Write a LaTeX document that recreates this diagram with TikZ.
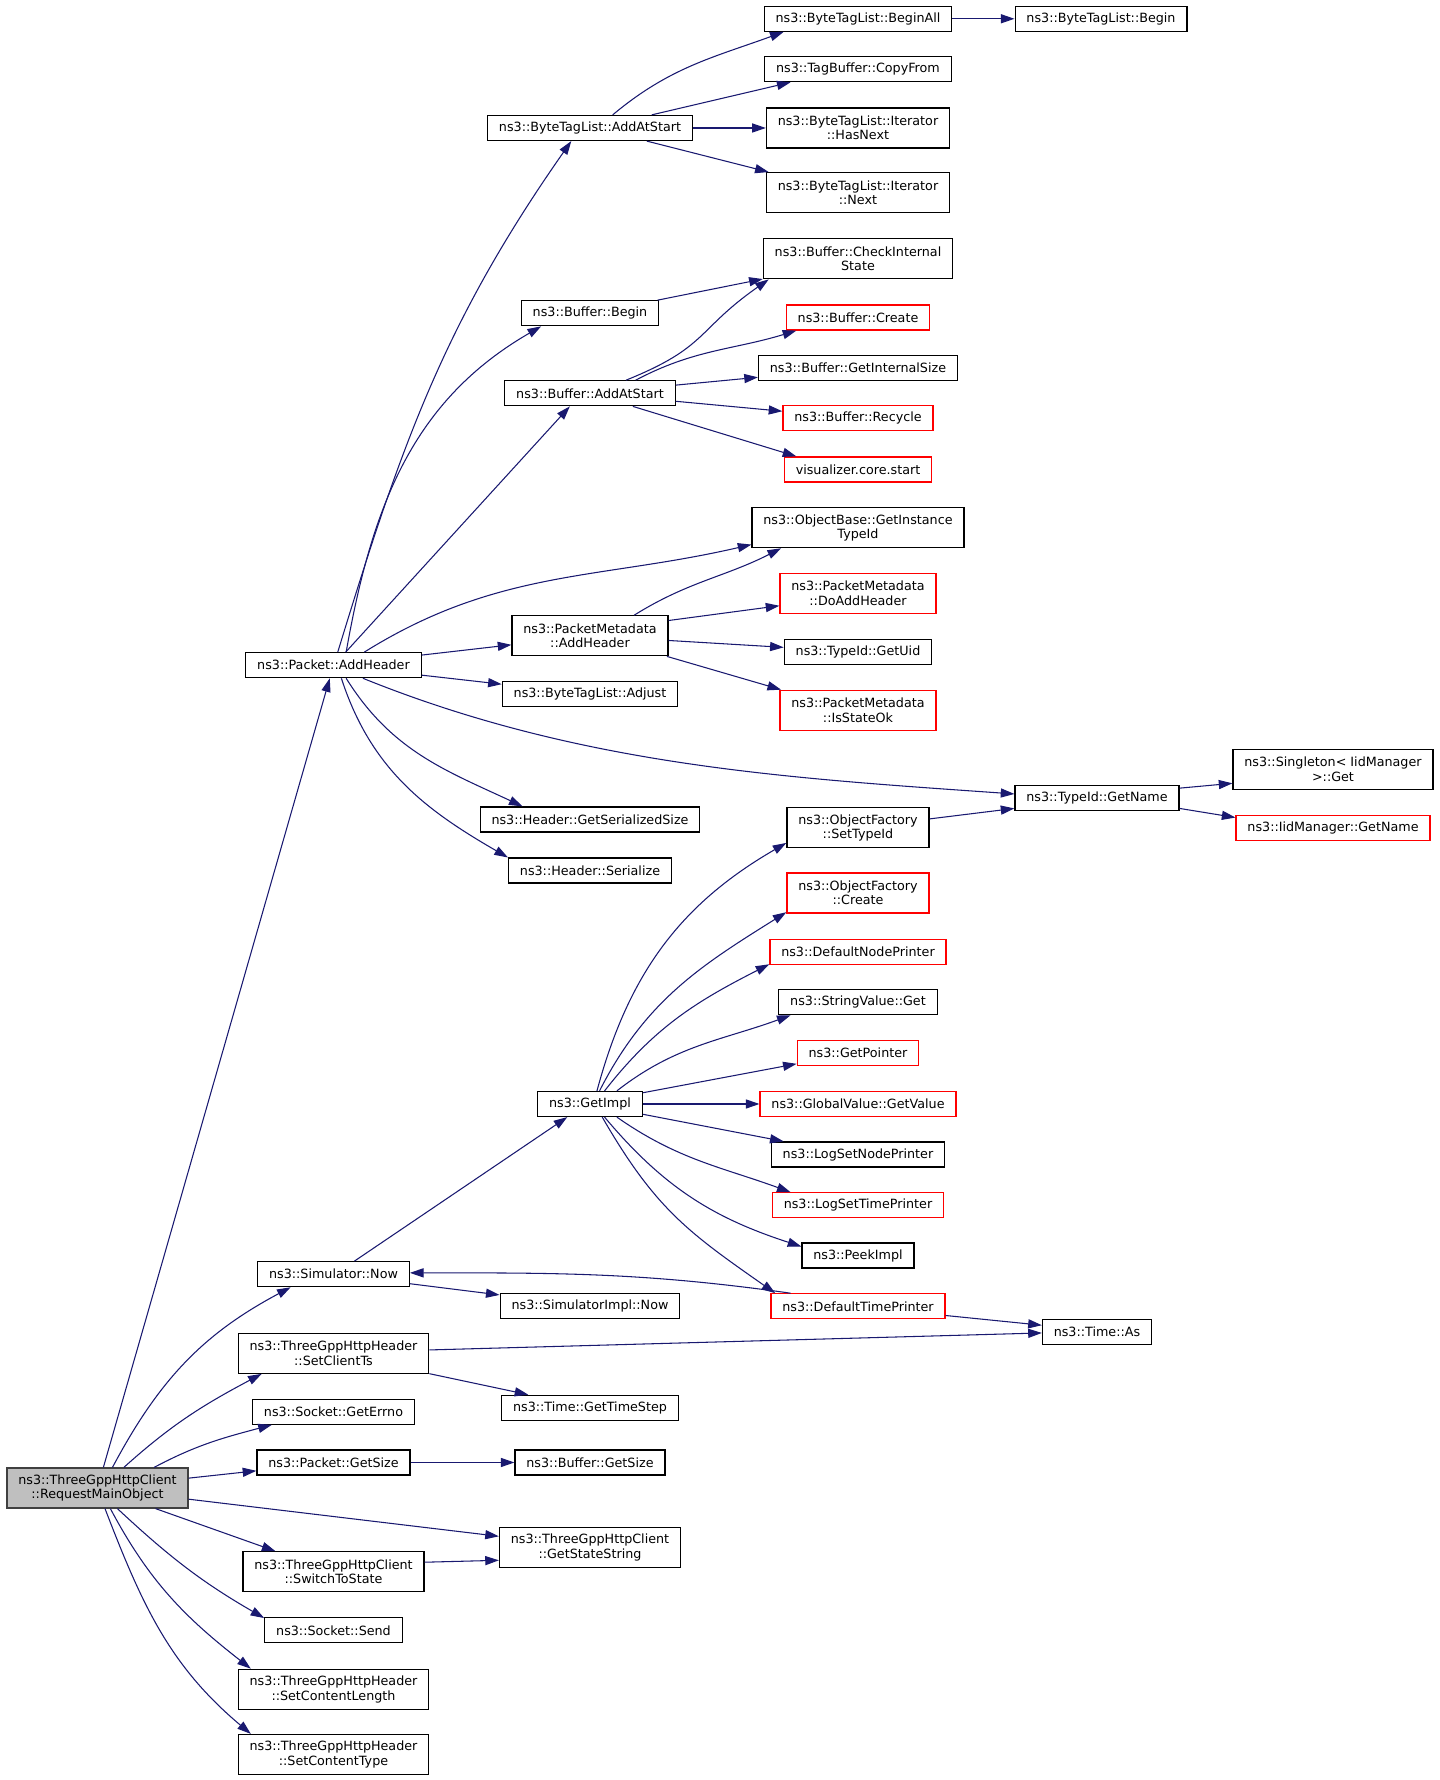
\documentclass[tikz,border=0pt]{standalone}
\usepackage{fontspec}
\setmainfont{DejaVu Sans}
\usetikzlibrary{arrows.meta}
\definecolor{midblue}{RGB}{25,25,112}
\definecolor{grayfill}{RGB}{191,191,191}
\begin{document}
\begin{tikzpicture}[x=0.66pt, y=0.66pt]
\tikzstyle{every node}=[draw, shape=rectangle, font=\fontsize{8.4}{9.5}\selectfont, align=center, inner xsep=7.5pt, inner ysep=0pt, minimum height=16.5pt, line width=0.8pt];
\tikzstyle{twoline}=[minimum height=26.4pt];
\tikzstyle{redbox}=[draw=red];
\tikzstyle{mainbox}=[fill=grayfill, draw=black!75];
\tikzstyle{every edge}=[draw, midblue, line width=0.7pt, -{Triangle[length=9pt, width=6pt]}];
\useasboundingbox (0,0) rectangle (1440,1780);
\node[mainbox, twoline] (main) at (97.5, 292) {ns3::ThreeGppHttpClient\\::RequestMainObject};
\node (pah) at (333.5, 1114.8) {ns3::Packet::AddHeader};
\node (btaas) at (590, 1652) {ns3::ByteTagList::AddAtStart};
\node (ba) at (858, 1761.2) {ns3::ByteTagList::BeginAll};
\node (btb) at (1101, 1761.2) {ns3::ByteTagList::Begin};
\node (cf) at (858, 1710.8) {ns3::TagBuffer::CopyFrom};
\node[twoline] (hn) at (858, 1652) {ns3::ByteTagList::Iterator\\::HasNext};
\node[twoline] (nx) at (858, 1587.3) {ns3::ByteTagList::Iterator\\::Next};
\node (bb) at (590, 1466.7) {ns3::Buffer::Begin};
\node (baas) at (590, 1386.7) {ns3::Buffer::AddAtStart};
\node[twoline] (cis) at (858, 1521.2) {ns3::Buffer::CheckInternal\\State};
\node[redbox] (bc) at (858, 1462.5) {ns3::Buffer::Create};
\node (gis) at (858, 1412.2) {ns3::Buffer::GetInternalSize};
\node[redbox] (br) at (858, 1361.7) {ns3::Buffer::Recycle};
\node[redbox] (vcs) at (858, 1310.5) {visualizer.core.start};
\node[twoline] (obgit) at (858, 1252.3) {ns3::ObjectBase::GetInstance\\TypeId};
\node[twoline] (pmah) at (590, 1144.2) {ns3::PacketMetadata\\::AddHeader};
\node[redbox, twoline] (dah) at (858, 1186.7) {ns3::PacketMetadata\\::DoAddHeader};
\node (tgu) at (858, 1128.2) {ns3::TypeId::GetUid};
\node[redbox, twoline] (iso) at (858, 1069.7) {ns3::PacketMetadata\\::IsStateOk};
\node (bta) at (590, 1085.8) {ns3::ByteTagList::Adjust};
\node (tgn) at (1097, 981.7) {ns3::TypeId::GetName};
\node[twoline] (sg) at (1333, 1010.8) {ns3::Singleton< IidManager\\>::Get};
\node[redbox] (img) at (1333, 952.2) {ns3::IidManager::GetName};
\node (hgss) at (590, 960.5) {ns3::Header::GetSerializedSize};
\node (hs) at (590, 909.5) {ns3::Header::Serialize};
\node[twoline] (ofs) at (858, 952.3) {ns3::ObjectFactory\\::SetTypeId};
\node[redbox, twoline] (ofc) at (858, 887) {ns3::ObjectFactory\\::Create};
\node[redbox] (dnp) at (858, 828.2) {ns3::DefaultNodePrinter};
\node (svg) at (858, 777.8) {ns3::StringValue::Get};
\node[redbox] (gp) at (858, 727) {ns3::GetPointer};
\node[redbox] (ggv) at (858, 676) {ns3::GlobalValue::GetValue};
\node (lsnp) at (858, 625.5) {ns3::LogSetNodePrinter};
\node[redbox] (lstp) at (858, 574.7) {ns3::LogSetTimePrinter};
\node (pi) at (858, 524.5) {ns3::PeekImpl};
\node[redbox] (dtp) at (858, 473.7) {ns3::DefaultTimePrinter};
\node (ta) at (1097, 448) {ns3::Time::As};
\node (gi) at (590, 676) {ns3::GetImpl};
\node (simnow) at (333.5, 505.8) {ns3::Simulator::Now};
\node (simimpl) at (590, 473.8) {ns3::SimulatorImpl::Now};
\node[twoline] (setclient) at (333.5, 426.7) {ns3::ThreeGppHttpHeader\\::SetClientTs};
\node (tgts) at (590, 372.2) {ns3::Time::GetTimeStep};
\node (errno) at (333.5, 368.3) {ns3::Socket::GetErrno};
\node (pgs) at (333.5, 317.5) {ns3::Packet::GetSize};
\node (bgs) at (590, 317.5) {ns3::Buffer::GetSize};
\node[twoline] (gss) at (590, 232.5) {ns3::ThreeGppHttpClient\\::GetStateString};
\node[twoline] (stt) at (333.5, 208.2) {ns3::ThreeGppHttpClient\\::SwitchToState};
\node (send) at (333.5, 149.7) {ns3::Socket::Send};
\node[twoline] (scl) at (333.5, 90.7) {ns3::ThreeGppHttpHeader\\::SetContentLength};
\node[twoline] (sct) at (333.5, 25.5) {ns3::ThreeGppHttpHeader\\::SetContentType};
\draw (main) edge (pah)
(main.54) edge[out=62, in=208] (simnow.197)
(main.38) edge[out=42, in=208] (setclient.196)
(main.20) edge[out=28, in=195] (errno.192)
(main) edge (pgs)
(main.353) edge (gss.173)
(main) edge (stt)
(main.314) edge[out=-43, in=150] (send.170)
(main.302) edge[out=-62, in=142] (scl.166)
(main.290) edge[out=-69, in=140] (sct.166)
(pah.72) edge[out=73, in=235] (btaas.215)
(pah.46) edge[out=80, in=210] (bb.195)
(pah.47) edge (baas.213)
(pah.23) edge[out=32, in=193] (obgit.189)
(pah) edge (pmah)
(pah) edge (bta)
(pah.336) edge[out=-22, in=176, looseness=0.9] (tgn.177)
(pah.314) edge[out=-58, in=155] (hgss.169)
(pah.301) edge[out=-72, in=150] (hs.171)
(btaas.30) edge[out=40, in=200] (ba.190)
(btaas.12) edge (cf.191)
(btaas) edge (hn)
(btaas.347) edge (nx.167)
(ba) edge (btb)
(bb.11) edge (cis.192)
(baas.20) edge[out=22, in=215, looseness=1.3] (cis.193)
(baas.16) edge[out=28, in=197] (bc.192)
(baas) edge (gis)
(baas) edge (br)
(baas.343) edge (vcs.168)
(pmah.25) edge[out=32, in=207] (obgit.195)
(pmah.11) edge (dah.189)
(pmah) edge (tgu)
(pmah.345) edge (iso.165)
(tgn.7) edge (sg.188)
(tgn.353) edge (img.174)
(ofs.7) edge (tgn.187)
(gi.62) edge[out=75, in=210] (ofs.192)
(gi.54) edge[out=63, in=212] (ofc.195)
(gi.42) edge[out=52, in=207] (dnp.188)
(gi.26) edge[out=38, in=200] (svg.191)
(gi.12) edge (gp.190)
(gi) edge (ggv)
(gi.349) edge (lsnp.170)
(gi.334) edge[out=-35, in=160] (lstp.169)
(gi.318) edge[out=-50, in=162] (pi.171)
(gi.313) edge[out=-60, in=145, looseness=1.1] (dtp.171)
(dtp.169) edge[out=172, in=0] (simnow.1)
(dtp.354) edge (ta.173)
(setclient.2) edge (ta.181)
(simnow.32) edge (gi.210)
(simnow) edge (simimpl)
(setclient.348) edge (tgts.168)
(pgs) edge (bgs)
(stt.6) edge (gss.188);
\end{tikzpicture}
\end{document}
